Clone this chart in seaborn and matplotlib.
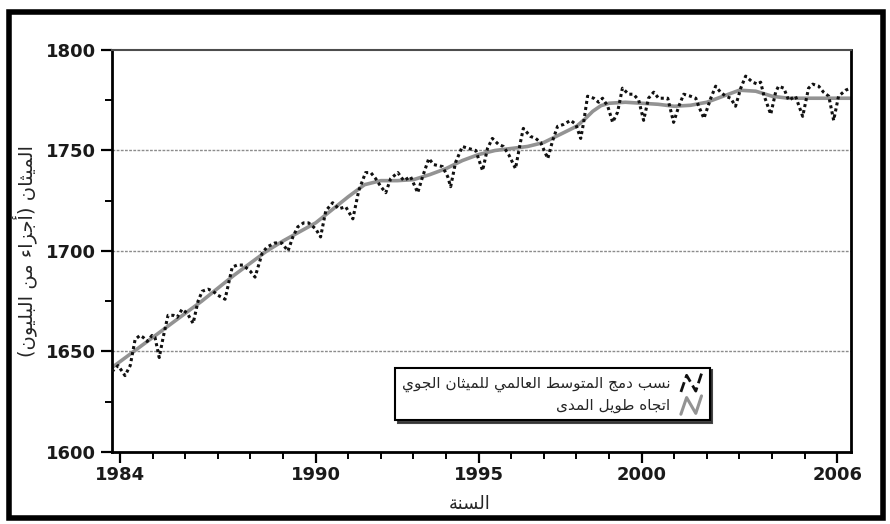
import numpy as np
import pandas as pd
import seaborn as sns
import matplotlib.pyplot as plt
from matplotlib.lines import Line2D
from matplotlib.patches import Rectangle
from matplotlib.legend_handler import HandlerBase

# ---------------- data ----------------
obs_year = [1983.75, 1983.94, 1984.15, 1984.31, 1984.46, 1984.61, 1984.71, 1984.83, 1984.98,
            1985.07, 1985.20, 1985.32, 1985.47, 1985.63, 1985.75, 1985.90, 1986.06, 1986.24,
            1986.39, 1986.52, 1986.70, 1986.85, 1987.00, 1987.22, 1987.44, 1987.59, 1987.77,
            1987.99, 1988.14, 1988.36, 1988.51, 1988.75, 1988.96, 1989.15, 1989.30, 1989.45,
            1989.63, 1989.78, 1990.00, 1990.15, 1990.31, 1990.52, 1990.71, 1990.92, 1991.14,
            1991.32, 1991.53, 1991.69, 1991.84, 1992.00, 1992.15, 1992.30, 1992.52, 1992.70,
            1992.91, 1993.13, 1993.28, 1993.47, 1993.62, 1993.89, 1994.05, 1994.14, 1994.29,
            1994.50, 1994.69, 1994.91, 1995.12, 1995.27, 1995.42, 1995.61, 1995.76, 1995.92,
            1996.13, 1996.28, 1996.37, 1996.59, 1996.75, 1996.90, 1997.12, 1997.27, 1997.42,
            1997.61, 1997.82, 1997.98, 1998.13, 1998.22, 1998.34, 1998.53, 1998.68, 1998.80,
            1998.96, 1999.11, 1999.26, 1999.41, 1999.60, 1999.75, 1999.91, 2000.06, 2000.21,
            2000.37, 2000.52, 2000.80, 2000.98, 2001.14, 2001.29, 2001.50, 2001.66, 2001.75,
            2001.91, 2002.12, 2002.27, 2002.42, 2002.58, 2002.73, 2002.88, 2003.04, 2003.19,
            2003.40, 2003.56, 2003.65, 2003.74, 2003.96, 2004.11, 2004.20, 2004.36, 2004.51,
            2004.72, 2004.94, 2005.12, 2005.25, 2005.43, 2005.58, 2005.74, 2005.89, 2006.04,
            2006.26, 2006.40]
obs_ch4 = [1640, 1643, 1638, 1643, 1656, 1658, 1657, 1655, 1658,
           1657, 1647, 1657, 1668, 1668, 1667, 1671, 1669, 1664,
           1675, 1680, 1681, 1680, 1678, 1676, 1692, 1693, 1693,
           1690, 1687, 1699, 1702, 1704, 1704, 1700, 1707, 1712,
           1714, 1714, 1711, 1707, 1720, 1724, 1721, 1722, 1716,
           1730, 1739, 1739, 1736, 1732, 1729, 1736, 1739, 1735,
           1737, 1729, 1737, 1746, 1743, 1742, 1737, 1732, 1744,
           1752, 1751, 1750, 1740, 1751, 1756, 1753, 1752, 1748,
           1741, 1754, 1761, 1757, 1756, 1754, 1746, 1755, 1762,
           1763, 1765, 1763, 1756, 1764, 1777, 1776, 1774, 1776,
           1772, 1764, 1769, 1781, 1778, 1778, 1775, 1765, 1776,
           1779, 1776, 1776, 1764, 1772, 1778, 1777, 1776, 1772,
           1766, 1776, 1782, 1779, 1777, 1776, 1772, 1781, 1787,
           1784, 1783, 1784, 1778, 1768, 1779, 1782, 1781, 1775,
           1777, 1767, 1781, 1783, 1782, 1779, 1777, 1765, 1777,
           1780, 1781]

trend_year = [1983.75, 1984.5, 1985.5, 1986.5, 1987.5, 1988.5, 1989.0, 1990.0, 1991.0,
              1991.5, 1992.0, 1992.5, 1993.0, 1993.5, 1994.0, 1994.5, 1995.0, 1995.5,
              1996.0, 1996.5, 1997.0, 1997.5, 1998.0, 1998.25, 1998.5, 1998.75, 1999.0,
              1999.5, 2000.0, 2000.5, 2001.0, 2001.5, 2002.0, 2002.5, 2003.0, 2003.5,
              2004.0, 2004.5, 2005.0, 2006.4]
trend_ch4 = [1642, 1651, 1663, 1675, 1688, 1700, 1705, 1714, 1727,
             1733, 1735, 1735, 1735.5, 1738, 1741, 1745, 1748, 1750,
             1751, 1752, 1754, 1758, 1762, 1765.5, 1769.5, 1772.3, 1773.5,
             1774, 1773.5, 1773, 1772, 1772.5, 1774, 1777, 1780, 1779.5,
             1777, 1776, 1776, 1776]

xtick_years = [1984, 1990, 1995, 2000, 2006]
ytick_vals = [1600, 1650, 1700, 1750, 1800]

label_obs = "نسب دمج المتوسط العالمي للميثان الجوي"
label_trend = "اتجاه طويل المدى"
label_x = "السنة"
label_y = "الميثان (أجزاء من البليون)"

# ---------------- arabic shaping (matplotlib has no bidi) ----------------
DUAL = {'ب': 0xFE8F, 'ت': 0xFE95, 'ث': 0xFE99, 'ج': 0xFE9D, 'ح': 0xFEA1, 'خ': 0xFEA5,
        'س': 0xFEB1, 'ش': 0xFEB5, 'ص': 0xFEB9, 'ض': 0xFEBD, 'ط': 0xFEC1, 'ظ': 0xFEC5,
        'ع': 0xFEC9, 'غ': 0xFECD, 'ف': 0xFED1, 'ق': 0xFED5, 'ك': 0xFED9, 'ل': 0xFEDD,
        'م': 0xFEE1, 'ن': 0xFEE5, 'ه': 0xFEE9, 'ي': 0xFEF1, 'ئ': 0xFE89}
RIGHT = {'ا': 0xFE8D, 'أ': 0xFE83, 'إ': 0xFE87, 'آ': 0xFE81, 'د': 0xFEA9, 'ذ': 0xFEAB,
         'ر': 0xFEAD, 'ز': 0xFEAF, 'و': 0xFEED, 'ة': 0xFE93, 'ى': 0xFEEF, 'ؤ': 0xFE85}
MIRROR = {'(': ')', ')': '('}


def ar(s):
    out = []
    for i, c in enumerate(s):
        if c in DUAL or c in RIGHT:
            base = DUAL.get(c, RIGHT.get(c))
            prev = s[i - 1] if i > 0 else ''
            nxt = s[i + 1] if i + 1 < len(s) else ''
            jp = prev in DUAL
            jn = c in DUAL and (nxt in DUAL or nxt in RIGHT)
            if jp and jn:
                code = base + 3
            elif jn:
                code = base + 2
            elif jp:
                code = base + 1
            else:
                code = base
            out.append(chr(code))
        elif c == 'ء':
            out.append(chr(0xFE80))
        else:
            out.append(MIRROR.get(c, c))
    return ''.join(reversed(out))


class ZigZag(HandlerBase):
    def create_artists(self, legend, orig_handle, xdescent, ydescent, width, height, fontsize, trans):
        xs = np.array([0.05, 0.3, 0.7, 0.95]) * width - xdescent
        ys = np.array([-0.05, 0.95, 0.0, 1.05]) * height - ydescent
        ln = Line2D(xs, ys, color=orig_handle.get_color(), linestyle=orig_handle.get_linestyle(),
                    linewidth=orig_handle.get_linewidth())
        ln.set_transform(trans)
        return [ln]


# ---------------- plot ----------------
sns.set_style("ticks")
plt.rcParams['font.family'] = ['DejaVu Sans']

df_obs = pd.DataFrame({"year": obs_year, "ch4": obs_ch4})
df_trend = pd.DataFrame({"year": trend_year, "ch4": trend_ch4})

fig = plt.figure(figsize=(8.9, 5.24), dpi=100)
ax = fig.add_axes([0.1258, 0.1374, 0.8303, 0.7672])

for v in ytick_vals[1:4]:
    ax.axhline(v, color="0.55", lw=1.0, ls=(0, (2, 1)), zorder=1)

sns.lineplot(data=df_trend, x="year", y="ch4", ax=ax, color="#939393", lw=2.6,
             sort=False, estimator=None, zorder=2)
sns.lineplot(data=df_obs, x="year", y="ch4", ax=ax, color="#111111", lw=2.2,
             ls=(0, (1, 1.0)), sort=False, estimator=None, zorder=3)

ax.set_xlim(1983.75, 2006.42)
ax.set_ylim(1600, 1800)

ax.set_xticks(xtick_years)
ax.set_xticklabels([str(y) for y in xtick_years])
ax.set_xticks(np.arange(1984, 2007), minor=True)
ax.set_yticks(ytick_vals)
ax.set_yticklabels([str(v) for v in ytick_vals])
ax.set_yticks(np.arange(1600, 1801, 25), minor=True)

ax.tick_params(axis="both", which="major", direction="out", length=8, width=1.6,
               labelsize=13, color="black")
ax.tick_params(axis="both", which="minor", direction="out", length=5, width=1.4, color="black")
ax.tick_params(axis="x", pad=2)
for t in ax.get_xticklabels() + ax.get_yticklabels():
    t.set_fontweight("bold")
    t.set_color("#1a1a1a")

for s in ["left", "bottom", "right"]:
    ax.spines[s].set_visible(True)
    ax.spines[s].set_color("black")
    ax.spines[s].set_linewidth(2)
ax.spines["top"].set_visible(True)
ax.spines["top"].set_color("0.3")
ax.spines["top"].set_linewidth(1.5)
ax.spines["top"].set_linestyle((0, (2, 1)))

ax.set_xlabel(ar(label_x), fontsize=13, backgroundcolor="white")
ax.xaxis.set_label_coords(0.484, -0.107)
ax.set_ylabel(ar(label_y), fontsize=14)
ax.yaxis.set_label_coords(-0.102, 0.5)

h_obs = Line2D([], [], color="#111111", lw=2.0, ls=(0, (1, 0.8)))
h_trend = Line2D([], [], color="#939393", lw=2.2)
leg = ax.legend([h_obs, h_trend], [ar(label_obs), ar(label_trend)],
                handler_map={Line2D: ZigZag()}, markerfirst=False,
                loc="upper right", bbox_to_anchor=(0.819, 0.229), fontsize=11,
                frameon=True, fancybox=False, shadow={"color": "0.2", "alpha": 0.9},
                edgecolor="black", framealpha=1, handlelength=1.5, handleheight=1.3,
                labelspacing=0.3, borderpad=0.45, handletextpad=0.6, alignment="right")
leg.get_frame().set_linewidth(1.5)
for t in leg.get_texts():
    t.set_ha("right")

# outer frame of the figure
fig.patches.append(Rectangle((9 / 890, 6 / 524), 874 / 890, 506 / 524, transform=fig.transFigure,
                             fill=False, edgecolor="black", lw=4, zorder=10))

fig.savefig("out.png", dpi=100)
